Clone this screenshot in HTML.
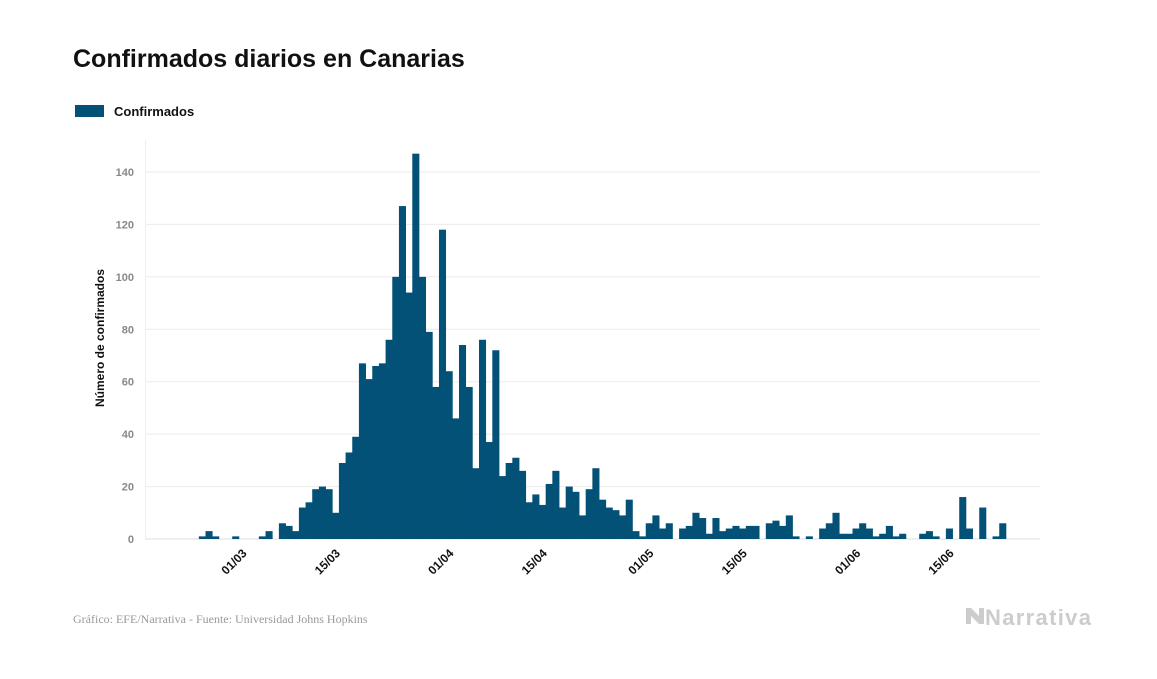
<!DOCTYPE html>
<html><head><meta charset="utf-8"><style>
body{margin:0;background:#fff;width:1157px;height:674px;overflow:hidden;font-family:"Liberation Sans",sans-serif;}
</style></head><body>
<svg width="1157" height="674">
<text x="73" y="67" font-size="25" font-weight="bold" fill="#111">Confirmados diarios en Canarias</text>
<rect x="75" y="105" width="29" height="12" fill="#035177"/>
<text x="114" y="116" font-size="13" font-weight="bold" fill="#111">Confirmados</text>
<g id="grid"></g><g id="bars"></g><g id="xlabels"></g>
<text transform="translate(104,338) rotate(-90)" text-anchor="middle" font-size="12" font-weight="bold" fill="#111">Número de confirmados</text>
<text x="73" y="623" font-size="12" fill="#999" font-family="Liberation Serif,serif">Gráfico: EFE/Narrativa - Fuente: Universidad Johns Hopkins</text>
<text x="985" y="625" font-size="22" font-weight="bold" fill="#ccc" textLength="106">Narrativa</text>
<path d="M966 608 l0 16 l5 0 l0-8 l8 8 l5 0 l0-16 l-5 0 l0 8 l-8-8z" fill="#ccc"/>
</svg>
<script>
const values=[0,0,1,3,1,0,0,1,0,0,0,1,3,0,6,5,3,12,14,19,20,19,10,29,33,39,67,61,66,67,76,100,127,94,147,100,79,58,118,64,46,74,58,27,76,37,72,24,29,31,26,14,17,13,21,26,12,20,18,9,19,27,15,12,11,9,15,3,1,6,9,4,6,0,4,5,10,8,2,8,3,4,5,4,5,5,0,6,7,5,9,1,0,1,0,4,6,10,2,2,4,6,4,1,2,5,1,2,0,0,2,3,1,0,4,0,16,4,0,12,0,1,6];
const yTicks=[0,20,40,60,80,100,120,140];
const xTickLabels=["01/03","15/03","01/04","15/04","01/05","15/05","01/06","15/06"];
const xTickIndex=[7,21,38,52,68,82,99,113];
const ns="http://www.w3.org/2000/svg";
const x0=185.5,bw=6.67,yBase=539,yTop=172,yMaxV=140;
const y=v=>yBase-(v/yMaxV)*(yBase-yTop);
const x=i=>x0+i*bw;
const grid=document.getElementById('grid'),bars=document.getElementById('bars'),xl=document.getElementById('xlabels');
yTicks.forEach(t=>{
 const l=document.createElementNS(ns,'line');
 l.setAttribute('x1',145);l.setAttribute('x2',1040);l.setAttribute('y1',y(t));l.setAttribute('y2',y(t));
 l.setAttribute('stroke',t===0?'#ddd':'#ebebeb');l.setAttribute('stroke-width',1);
 
 
 grid.appendChild(l);
 const tx=document.createElementNS(ns,'text');
 tx.setAttribute('x',134);tx.setAttribute('y',y(t)+4);tx.setAttribute('text-anchor','end');
 tx.setAttribute('font-size',11);tx.setAttribute('font-weight','bold');tx.setAttribute('fill','#888');
 tx.textContent=t;
 
 
 grid.appendChild(tx);
});
const ax=document.createElementNS(ns,'line');
ax.setAttribute('x1',145.5);ax.setAttribute('x2',145.5);ax.setAttribute('y1',140);ax.setAttribute('y2',540);ax.setAttribute('stroke','#eee');


grid.appendChild(ax);
values.forEach((v,i)=>{
 if(v<=0)return;
 const r=document.createElementNS(ns,'rect');
 r.setAttribute('x',x(i));r.setAttribute('width',bw+0.4);r.setAttribute('y',y(v));r.setAttribute('height',yBase-y(v));
 r.setAttribute('fill','#035177');
 
 
 bars.appendChild(r);
});
xTickLabels.forEach((s,k)=>{
 const cx=x(xTickIndex[k])+bw/2;
 const t=document.createElementNS(ns,'text');
 t.setAttribute('x',0);t.setAttribute('y',0);t.setAttribute('text-anchor','end');
 t.setAttribute('transform',`translate(${cx+12},${554}) rotate(-45)`);
 t.setAttribute('font-size',12);t.setAttribute('font-weight','bold');t.setAttribute('fill','#111');
 t.textContent=s;
 
 
 xl.appendChild(t);
});
</script>
</body></html>
